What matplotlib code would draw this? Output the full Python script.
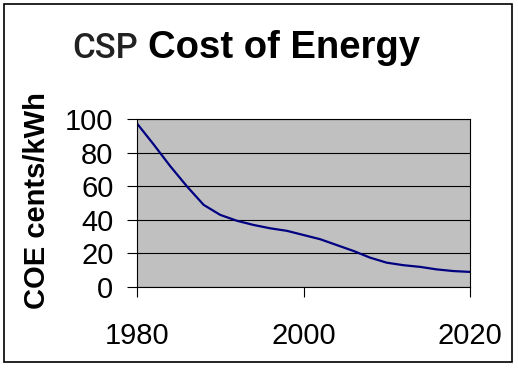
import matplotlib.pyplot as plt
from matplotlib.patches import Rectangle

# data (cents/kWh)
years = [1980, 1982, 1984, 1986, 1988, 1990, 1992, 1994, 1996, 1998, 2000,
         2002, 2004, 2006, 2008, 2010, 2012, 2014, 2016, 2018, 2020]
coe = [97.5, 85, 72, 60, 49, 43, 39.5, 37, 35, 33.5, 31,
       28.5, 25, 21.5, 17.5, 14.5, 13, 12, 10.5, 9.5, 9]
y_ticks = [0, 20, 40, 60, 80, 100]
x_ticks = [1980, 2000, 2020]

W, H = 518, 368
fig = plt.figure(figsize=(W / 100, H / 100), dpi=100)
ax = fig.add_axes([137 / W, 1 - 287 / H, (470 - 137) / W, (287 - 119.3) / H])

ax.set_facecolor('#C0C0C0')
ax.plot(years, coe, color='#000080', linewidth=1.6)
ax.set_xlim(1980, 2020)
ax.set_ylim(0, 100)
ax.set_xticks(x_ticks)
ax.set_yticks(y_ticks)
ax.grid(axis='y', color='black', linewidth=0.8)
ax.set_axisbelow(True)
for s in ax.spines.values():
    s.set_linewidth(0.8)
ax.tick_params(axis='both', direction='out', length=7, width=0.8,
               labelsize=21, colors='black')
ax.tick_params(axis='y', pad=10)
ax.tick_params(axis='x', pad=18)
for lbl in ax.get_xticklabels() + ax.get_yticklabels():
    lbl.set_fontfamily('Liberation Sans')

fig.text(37 / W, 1 - 201 / H, 'COE cents/kWh', rotation=90, ha='center', va='center',
         fontsize=21, fontweight='bold', fontfamily='Liberation Sans')

# title in two fonts
fig.text(72 / W, 1 - 58 / H, 'CSP', ha='left', va='baseline', fontsize=25,
         fontfamily='Roboto', fontweight='medium', color='#222222')
fig.text(148 / W, 1 - 58 / H, 'Cost of Energy', ha='left', va='baseline', fontsize=27.5,
         fontfamily='Liberation Sans', fontweight='bold', color='black')

# outer frame
fig.patches.append(Rectangle((4 / W, 1 - 362 / H), 508 / W, 358 / H, transform=fig.transFigure,
                             fill=False, edgecolor='black', linewidth=1.2))

fig.savefig('out.png', dpi=100)
